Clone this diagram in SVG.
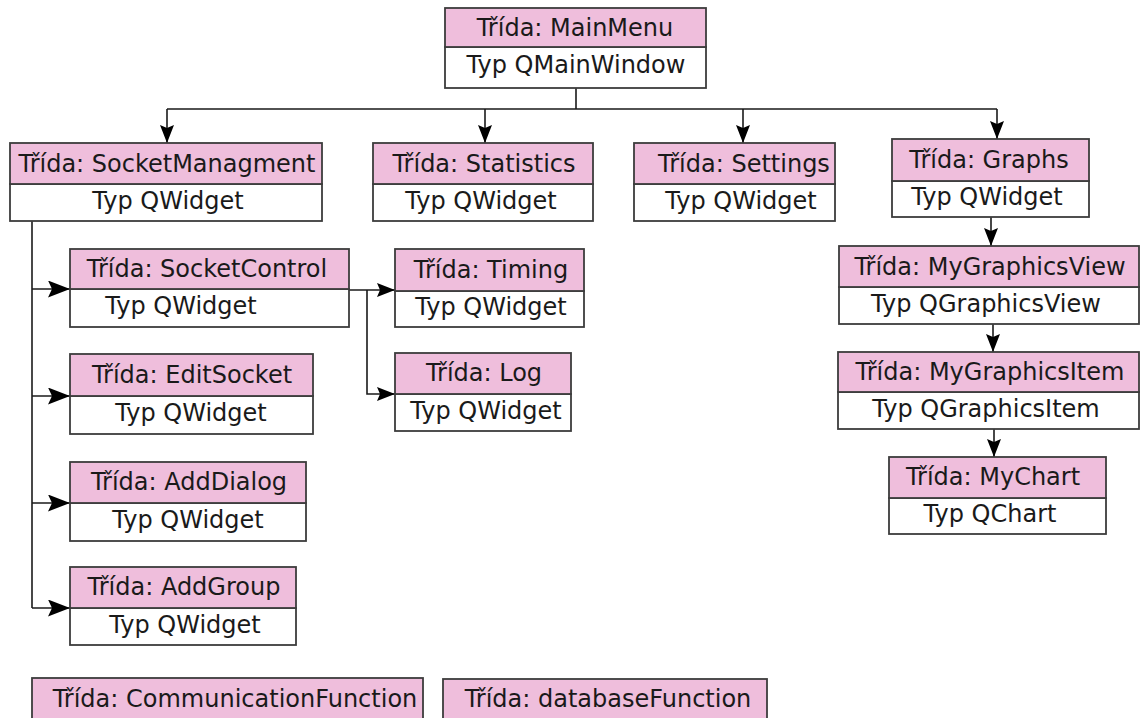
<svg xmlns="http://www.w3.org/2000/svg" width="1141" height="718" viewBox="0 0 1141 718">
<style>
.h{fill:#efbedc;stroke:#3c3c3c;stroke-width:1.8}
.b{fill:#ffffff;stroke:#3c3c3c;stroke-width:1.8}
text{font-family:"DejaVu Sans","Verdana",sans-serif;font-size:24px;fill:#1a1a1a;text-anchor:middle}
.c{fill:none;stroke:#1a1a1a;stroke-width:1.6}
</style>
<defs>
<marker id="av" viewBox="0 0 18 14" refX="18" refY="7" markerWidth="18" markerHeight="14" orient="auto" markerUnits="userSpaceOnUse"><path d="M0,0 L18,7 L0,14 L3,7 z" fill="#000"/></marker>
<marker id="ah" viewBox="0 0 22 17" refX="22" refY="8.5" markerWidth="22" markerHeight="17" orient="auto" markerUnits="userSpaceOnUse"><path d="M0,0 L22,8.5 L0,17 L4,8.5 z" fill="#000"/></marker>
</defs>
<rect width="1141" height="718" fill="#fff"/>
<g id="connectors">
<path class="c" d="M576,88 V109 M167,109 H997"/>
<path class="c" d="M167,109 V143" marker-end="url(#av)"/>
<path class="c" d="M485,109 V143" marker-end="url(#av)"/>
<path class="c" d="M743,109 V143" marker-end="url(#av)"/>
<path class="c" d="M997,109 V139" marker-end="url(#av)"/>
<path class="c" d="M32,221 V608"/>
<path class="c" d="M32,289 H70" marker-end="url(#ah)"/>
<path class="c" d="M32,396 H70" marker-end="url(#ah)"/>
<path class="c" d="M32,503 H70" marker-end="url(#ah)"/>
<path class="c" d="M32,608 H70" marker-end="url(#ah)"/>
<path class="c" d="M349,290 H395" marker-end="url(#av)"/>
<path class="c" d="M367,290 V394 H395" marker-end="url(#av)"/>
<path class="c" d="M991,217 V246" marker-end="url(#av)"/>
<path class="c" d="M993,324 V352" marker-end="url(#av)"/>
<path class="c" d="M994,429 V457" marker-end="url(#av)"/>
</g>
<g id="MainMenu">
<rect class="b" x="445" y="47" width="261" height="41"/>
<rect class="h" x="445" y="8" width="261" height="39"/>
<text x="575" y="36">Třída: MainMenu</text>
<text x="576" y="73">Typ QMainWindow</text>
</g>
<g id="SocketManagment">
<rect class="b" x="10" y="184" width="312" height="37"/>
<rect class="h" x="10" y="143" width="312" height="41"/>
<text x="167" y="172">Třída: SocketManagment</text>
<text x="168" y="209">Typ QWidget</text>
</g>
<g id="Statistics">
<rect class="b" x="373" y="184" width="220" height="37"/>
<rect class="h" x="373" y="143" width="220" height="41"/>
<text x="484" y="172">Třída: Statistics</text>
<text x="481" y="209">Typ QWidget</text>
</g>
<g id="Settings">
<rect class="b" x="634" y="184" width="201" height="37"/>
<rect class="h" x="634" y="143" width="201" height="41"/>
<text x="744" y="172">Třída: Settings</text>
<text x="741" y="209">Typ QWidget</text>
</g>
<g id="Graphs">
<rect class="b" x="892" y="181" width="197" height="36"/>
<rect class="h" x="892" y="139" width="197" height="42"/>
<text x="989" y="168">Třída: Graphs</text>
<text x="987" y="205">Typ QWidget</text>
</g>
<g id="MyGraphicsView">
<rect class="b" x="839" y="287" width="300" height="37"/>
<rect class="h" x="839" y="246" width="300" height="41"/>
<text x="990" y="275">Třída: MyGraphicsView</text>
<text x="986" y="312">Typ QGraphicsView</text>
</g>
<g id="MyGraphicsItem">
<rect class="b" x="838" y="392" width="301" height="37"/>
<rect class="h" x="838" y="352" width="301" height="40"/>
<text x="990" y="380">Třída: MyGraphicsItem</text>
<text x="986" y="417">Typ QGraphicsItem</text>
</g>
<g id="MyChart">
<rect class="b" x="889" y="498" width="217" height="36"/>
<rect class="h" x="889" y="457" width="217" height="41"/>
<text x="993" y="485">Třída: MyChart</text>
<text x="990" y="522">Typ QChart</text>
</g>
<g id="SocketControl">
<rect class="b" x="70" y="289" width="279" height="38"/>
<rect class="h" x="70" y="249" width="279" height="40"/>
<text x="207" y="277">Třída: SocketControl</text>
<text x="181" y="314">Typ QWidget</text>
</g>
<g id="EditSocket">
<rect class="b" x="70" y="396" width="243" height="38"/>
<rect class="h" x="70" y="354" width="243" height="42"/>
<text x="192" y="383">Třída: EditSocket</text>
<text x="191" y="421">Typ QWidget</text>
</g>
<g id="AddDialog">
<rect class="b" x="70" y="503" width="236" height="38"/>
<rect class="h" x="70" y="462" width="236" height="41"/>
<text x="189" y="490">Třída: AddDialog</text>
<text x="188" y="528">Typ QWidget</text>
</g>
<g id="AddGroup">
<rect class="b" x="70" y="608" width="226" height="37"/>
<rect class="h" x="70" y="567" width="226" height="41"/>
<text x="184" y="595">Třída: AddGroup</text>
<text x="185" y="633">Typ QWidget</text>
</g>
<g id="Timing">
<rect class="b" x="395" y="291" width="189" height="36"/>
<rect class="h" x="395" y="249" width="189" height="42"/>
<text x="491" y="278">Třída: Timing</text>
<text x="491" y="315">Typ QWidget</text>
</g>
<g id="Log">
<rect class="b" x="395" y="394" width="176" height="37"/>
<rect class="h" x="395" y="353" width="176" height="41"/>
<text x="484" y="381">Třída: Log</text>
<text x="486" y="419">Typ QWidget</text>
</g>
<g id="CommunicationFunction">
<rect class="h" x="32" y="678" width="391" height="50"/>
<text x="235" y="707">Třída: CommunicationFunction</text>
</g>
<g id="databaseFunction">
<rect class="h" x="443" y="679" width="324" height="50"/>
<text x="608" y="707">Třída: databaseFunction</text>
</g>
</svg>
